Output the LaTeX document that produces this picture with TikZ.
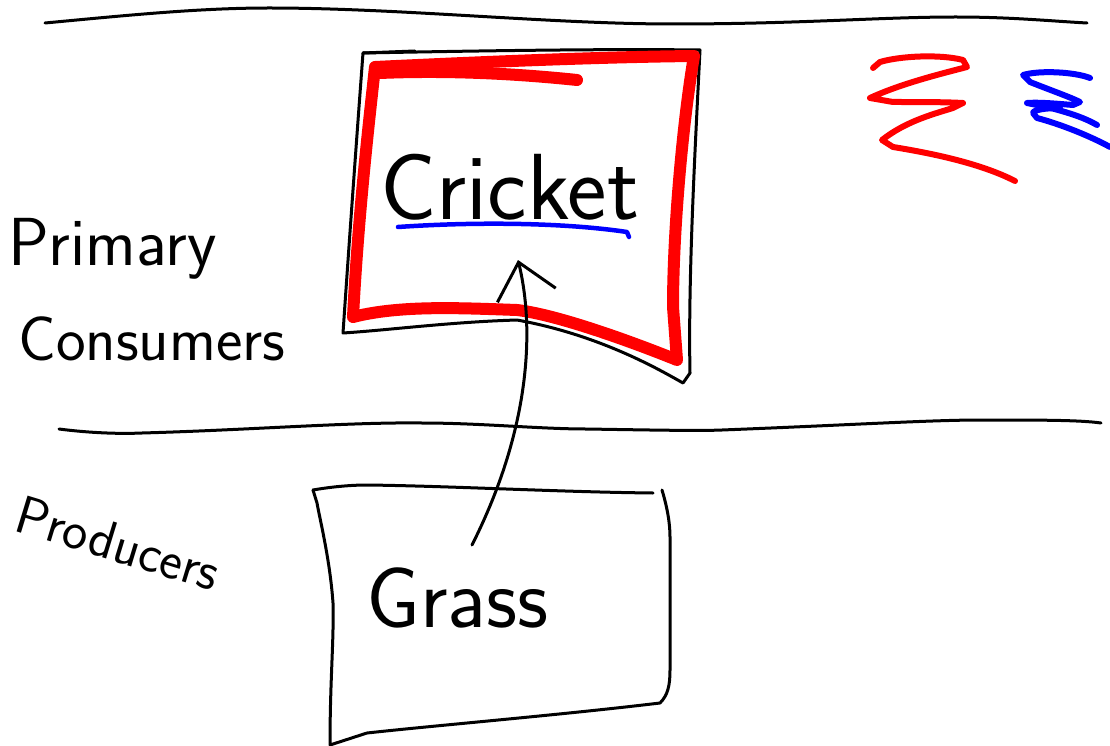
\documentclass[tikz,border=0pt]{standalone}
\usetikzlibrary{arrows.meta}
\begin{document}
\begin{tikzpicture}[x=1pt,y=-1pt,
  ink/.style={line width=3pt,line cap=round,line join=round,black},
  redpen/.style={line width=12pt,line cap=round,line join=round,red},
  bluepen/.style={line width=4.5pt,line cap=round,line join=round,blue},
  scrib/.style={line width=6pt,line cap=round,line join=round},
  hand/.style={font=\sffamily,inner sep=0pt,anchor=base west}]
\useasboundingbox (0,0) rectangle (1110,746);
% divider lines
\draw[ink] (45,23) .. controls (130,15) and (200,8) .. (269,8) .. controls (400,8) and (550,24) .. (673,24)
  .. controls (800,24) and (880,17) .. (956,17) .. controls (1010,17) and (1050,21) .. (1087,23);
\draw[ink] (59,429) .. controls (90,433) and (120,434) .. (142,433) .. controls (250,430) and (350,422) .. (422,423)
  .. controls (480,423) and (540,429) .. (586,429) .. controls (650,430) and (700,431) .. (722,430)
  .. controls (850,425) and (930,420) .. (981,420) .. controls (1040,420) and (1080,420) .. (1101,423);
% cricket box (black outline)
\draw[ink] (363,53) -- (415,51);
\draw[ink] (363,53) .. controls (520,50) and (620,49) .. (700,50)
  .. controls (695,150) and (688,280) .. (690,373) -- (683,383)
  .. controls (660,370) and (600,335) .. (517,320)
  .. controls (450,322) and (390,330) .. (343,333)
  .. controls (350,230) and (358,120) .. (363,53);
% cricket box (red)
\draw[redpen] (375,67) .. controls (480,62) and (600,57) .. (694,56)
  .. controls (683,120) and (673,230) .. (673,307) -- (677,360)
  .. controls (640,345) and (560,315) .. (517,310)
  .. controls (460,308) and (400,305) .. (353,317)
  .. controls (358,220) and (368,130) .. (375,67);
\draw[redpen] (380,73) .. controls (450,70) and (520,74) .. (577,80);
% texts
\node[hand,font=\sffamily\fontsize{94}{96}\selectfont] (cricket) at (380,219) {Cricket};
\draw[bluepen] (398,227) .. controls (470,222) and (560,222) .. (627,232) -- (629,237);
\node[hand,font=\sffamily\fontsize{86}{88}\selectfont] (grass) at (366,627) {Grass};
\node[hand,font=\sffamily\fontsize{68}{70}\selectfont] (primary) at (8,265) {Primary};
\node[hand,font=\sffamily\fontsize{63}{66}\selectfont] (consumers) at (18,360) {Consumers};
\node[hand,font=\sffamily\fontsize{54}{56}\selectfont,rotate=-17] (producers) at (12,530) {Producers};
% grass box
\draw[ink] (313,490) .. controls (330,487) and (350,485) .. (367,485)
  .. controls (450,486) and (560,492) .. (653,493);
\draw[ink] (662,490) .. controls (668,510) and (670,525) .. (670,537)
  -- (670,670) .. controls (670,685) and (668,695) .. (660,703)
  .. controls (560,715) and (440,725) .. (367,733) -- (330,745)
  .. controls (330,680) and (334,640) .. (333,603)
  .. controls (330,560) and (320,520) .. (317,503) -- (313,490);
% arrow
\coordinate (arrS) at (472,545);
\coordinate (arrE) at (518,260);
\draw[ink,-{Straight Barb[length=34pt,width=60pt,line width=3pt]}] (arrS) .. controls (530,430) and (535,330) .. (arrE);
% scribbles
\draw[scrib,red] (873,68) -- (880,62) .. controls (900,56) and (940,54) .. (963,60) -- (967,67)
  .. controls (940,74) and (900,84) .. (870,98) -- (893,102) .. controls (920,102) and (945,102) .. (963,103)
  -- (953,108) .. controls (930,115) and (905,122) .. (882,140) -- (893,147)
  .. controls (930,153) and (980,163) .. (1015,181);
\draw[scrib,blue] (1090,78) .. controls (1075,72) and (1040,70) .. (1023,75) -- (1030,82)
  .. controls (1050,90) and (1070,97) .. (1080,102) -- (1073,105) .. controls (1060,104) and (1040,102) .. (1027,103)
  -- (1047,107) .. controls (1070,113) and (1085,118) .. (1097,125);
\draw[scrib,blue] (1060,108) .. controls (1045,108) and (1033,110) .. (1033,113) -- (1037,118)
  .. controls (1060,124) and (1090,136) .. (1110,147);
\end{tikzpicture}
\end{document}
